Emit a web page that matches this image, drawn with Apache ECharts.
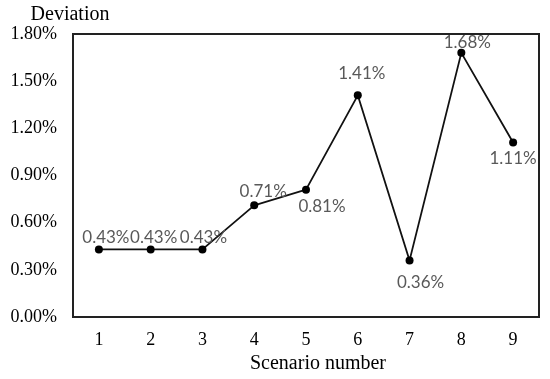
<!DOCTYPE html>
<html>
<head>
<meta charset="utf-8">
<script src="https://cdn.jsdelivr.net/npm/echarts@6/dist/echarts.min.js"></script>
<style>html,body{margin:0;padding:0;background:#fff;}#c{width:550px;height:379px;}</style>
</head>
<body>
<div id="c"></div>
<script>
var categories = ['1','2','3','4','5','6','7','8','9'];
var deviation = [0.43, 0.43, 0.43, 0.71, 0.81, 1.41, 0.36, 1.68, 1.11];
var yMin = 0, yMax = 1.8, yStep = 0.3;

// label placement (style only): offset of each value label from its point
var labelShift = [[7,-12],[3,-12],[1,-12],[9,-14],[16,17],[4,-22],[11,22],[6,-10],[0,16]];

var chart = echarts.init(document.getElementById('c'), null, {renderer:'canvas'});
var data = deviation.map(function(v, i){
  return {value: v, label: {position: 'inside', offset: labelShift[i]}};
});
chart.setOption({
  animation: false,
  grid: {left: 73, right: 11, top: 34, bottom: 62, show: true, borderColor: '#222', borderWidth: 2, backgroundColor: 'transparent'},
  xAxis: {
    type: 'category', data: categories, boundaryGap: true,
    name: 'Scenario number', nameLocation: 'middle', nameGap: 36,
    nameTextStyle: {fontFamily: 'Liberation Serif', fontSize: 20, color: '#000', padding: [0,0,0,24]},
    axisLine: {show: true, lineStyle: {color: '#222', width: 2}},
    axisTick: {show: false},
    axisLabel: {fontFamily: 'Liberation Serif', fontSize: 18, color: '#000', margin: 14},
    splitLine: {show: false}
  },
  yAxis: {
    type: 'value', min: yMin, max: yMax, interval: yStep,
    name: 'Deviation', nameLocation: 'end', nameGap: 8,
    nameTextStyle: {fontFamily: 'Liberation Serif', fontSize: 20, color: '#000', align: 'center', padding: [0,6,0,0]},
    axisLine: {show: true, lineStyle: {color: '#222', width: 2}},
    axisTick: {show: false},
    axisLabel: {fontFamily: 'Liberation Serif', fontSize: 18, color: '#000', margin: 16,
      formatter: function(v){ return v.toFixed(2) + '%'; }},
    splitLine: {show: false}
  },
  series: [{
    type: 'line', data: data,
    symbol: 'circle', symbolSize: 8,
    lineStyle: {color: '#111', width: 1.8},
    itemStyle: {color: '#000'},
    label: {show: true, fontFamily: 'Lato', fontSize: 17, color: '#595959',
      formatter: function(p){ return p.value.toFixed(2) + '%'; }}
  }]
});
</script>
</body>
</html>
